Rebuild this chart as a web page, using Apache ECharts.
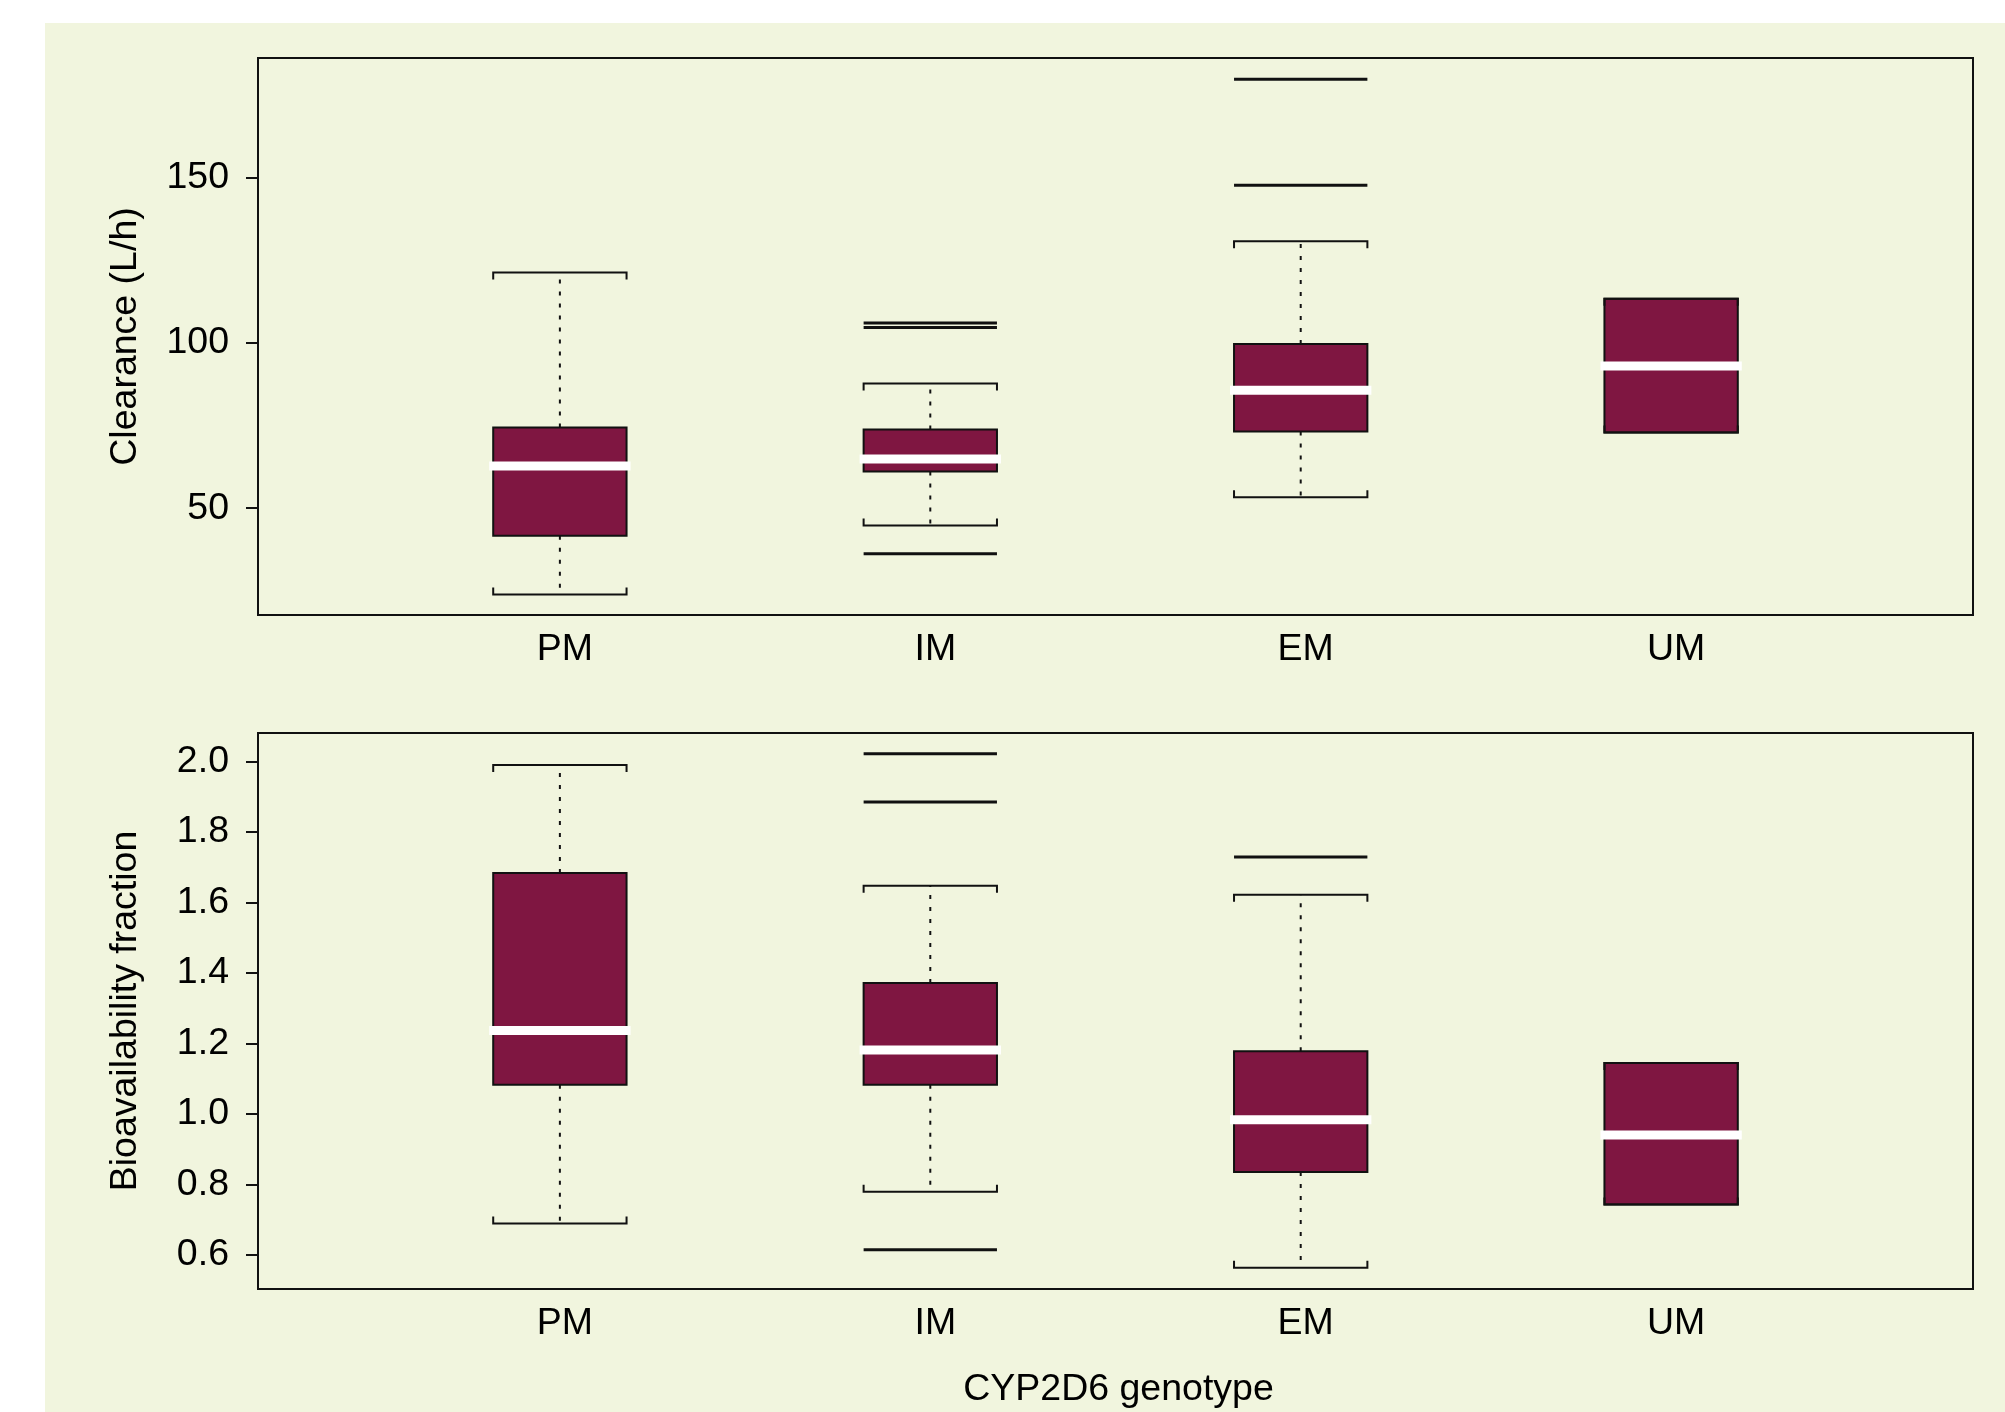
<!DOCTYPE html>
<html>
<head>
<meta charset="utf-8">
<title>CYP2D6 genotype: clearance and bioavailability</title>
<script src="https://cdn.jsdelivr.net/npm/echarts@6/dist/echarts.min.js"></script>
<style>
  html, body { margin: 0; padding: 0; background: #ffffff; }
  #panel { position: absolute; left: 45px; top: 23px; right: 0; bottom: 0; background: #f1f5de; }
  #chart { position: absolute; left: 0; top: 0; width: 2005px; height: 1412px; }
</style>
</head>
<body>
<div id="panel"></div>
<div id="chart"></div>
<script>
// Genotype groups along the x axis
const genotypes = ['PM', 'IM', 'EM', 'UM'];

// Clearance (L/h): five-number summaries [lower whisker, Q1, median, Q3, upper whisker]
const clearancePM = [23.9, 41.7, 62.8, 74.4, 121.3];
const clearanceIM = [44.8, 61.1, 64.9, 73.8, 87.7];
const clearanceEM = [53.3, 73.2, 85.7, 99.7, 130.8];
const clearanceUM = [72.9, 72.9, 93.0, 113.4, 113.4];
// Clearance outliers as [group index, value]
const clearanceOutliers = [[1, 106.0], [1, 104.7], [1, 36.2], [2, 179.8], [2, 147.7]];
const clearanceTicks = [50, 100, 150];

// Bioavailability fraction: five-number summaries
const bioPM = [0.690, 1.083, 1.237, 1.684, 1.990];
const bioIM = [0.780, 1.083, 1.182, 1.372, 1.648];
const bioEM = [0.564, 0.836, 0.984, 1.178, 1.622];
const bioUM = [0.744, 0.744, 0.941, 1.145, 1.145];
// Bioavailability outliers as [group index, value]
const bioOutliers = [[1, 2.022], [1, 1.885], [1, 0.615], [2, 1.729]];
const bioTicks = [0.6, 0.8, 1.0, 1.2, 1.4, 1.6, 1.8, 2.0];

const BOX_FILL = '#7f1641';
const INK = '#111111';
const BOX_WIDTH = 0.36;            // box width in x-axis units
const FONT = '"Liberation Sans", Arial, Helvetica, sans-serif';
const FONT_SIZE = 37.5;

const rows = (stats) => stats.map((s, i) => [i].concat(s));

function renderBox(params, api) {
  const x = api.value(0);
  const halfW = api.size([1, 0])[0] * BOX_WIDTH / 2;
  const cx = api.coord([x, api.value(3)])[0];
  const yLow = api.coord([x, api.value(1)])[1];
  const yQ1 = api.coord([x, api.value(2)])[1];
  const yMed = api.coord([x, api.value(3)])[1];
  const yQ3 = api.coord([x, api.value(4)])[1];
  const yHigh = api.coord([x, api.value(5)])[1];
  const dotted = { stroke: INK, lineWidth: 2, lineDash: [4, 8], fill: null };
  const solid = { stroke: INK, lineWidth: 2, fill: null };
  const children = [];
  if (yHigh < yQ3 - 1) {
    children.push({ type: 'line', shape: { x1: cx, y1: yQ3, x2: cx, y2: yHigh }, style: dotted });
  }
  if (yLow > yQ1 + 1) {
    children.push({ type: 'line', shape: { x1: cx, y1: yQ1, x2: cx, y2: yLow }, style: dotted });
  }
  children.push({
    type: 'rect',
    shape: { x: cx - halfW, y: yQ3, width: 2 * halfW, height: yQ1 - yQ3 },
    style: { fill: BOX_FILL, stroke: INK, lineWidth: 2 }
  });
  children.push({
    type: 'line',
    shape: { x1: cx - halfW - 4, y1: yMed, x2: cx + halfW + 4, y2: yMed },
    style: { stroke: '#ffffff', lineWidth: 9 }
  });
  // whisker staples with short end ticks pointing back toward the box
  children.push({
    type: 'polyline',
    shape: { points: [[cx - halfW, yHigh + 7], [cx - halfW, yHigh], [cx + halfW, yHigh], [cx + halfW, yHigh + 7]] },
    style: solid
  });
  children.push({
    type: 'polyline',
    shape: { points: [[cx - halfW, yLow - 7], [cx - halfW, yLow], [cx + halfW, yLow], [cx + halfW, yLow - 7]] },
    style: solid
  });
  return { type: 'group', children: children };
}

function renderOutlier(params, api) {
  const halfW = api.size([1, 0])[0] * BOX_WIDTH / 2;
  const p = api.coord([api.value(0), api.value(1)]);
  return {
    type: 'line',
    shape: { x1: p[0] - halfW, y1: p[1], x2: p[0] + halfW, y2: p[1] },
    style: { stroke: INK, lineWidth: 3 }
  };
}

const xAxisBase = (gridIndex, withName) => ({
  type: 'value',
  gridIndex: gridIndex,
  min: -0.815,
  max: 3.815,
  axisLine: { show: false, onZero: false },
  axisTick: { show: false },
  splitLine: { show: false },
  axisLabel: {
    customValues: [0, 1, 2, 3],
    formatter: (v) => genotypes[Math.round(v)],
    color: '#000', fontSize: FONT_SIZE, fontFamily: FONT, margin: 16,
    padding: [0, 0, 0, 10]
  },
  name: withName ? 'CYP2D6 genotype' : '',
  nameLocation: 'middle',
  nameGap: 82,
  nameTextStyle: { color: '#000', fontSize: FONT_SIZE, fontFamily: FONT, padding: [0, 0, 0, 6] }
});

const yAxisBase = (gridIndex, name, min, max, ticks, fmt) => ({
  type: 'value',
  gridIndex: gridIndex,
  min: min,
  max: max,
  axisLine: { show: false, onZero: false },
  splitLine: { show: false },
  axisTick: { show: true, inside: false, length: 12, customValues: ticks, lineStyle: { color: INK, width: 2 } },
  axisLabel: {
    customValues: ticks, formatter: fmt,
    color: '#000', fontSize: FONT_SIZE, fontFamily: FONT, margin: 29
  },
  name: name,
  nameLocation: 'middle',
  nameGap: 113,
  nameTextStyle: { color: '#000', fontSize: FONT_SIZE, fontFamily: FONT }
});

const chart = echarts.init(document.getElementById('chart'), null, { renderer: 'canvas' });
chart.setOption({
  backgroundColor: 'transparent',
  animation: false,
  grid: [
    { left: 258, top: 58, width: 1715, height: 557, show: true, borderColor: INK, borderWidth: 2, backgroundColor: 'transparent' },
    { left: 258, top: 733, width: 1715, height: 556, show: true, borderColor: INK, borderWidth: 2, backgroundColor: 'transparent' }
  ],
  xAxis: [xAxisBase(0, false), xAxisBase(1, true)],
  yAxis: [
    yAxisBase(0, 'Clearance (L/h)', 17.7, 186.2, clearanceTicks, (v) => String(Math.round(v))),
    yAxisBase(1, 'Bioavailability fraction', 0.504, 2.081, bioTicks, (v) => v.toFixed(1))
  ],
  series: [
    {
      type: 'custom', xAxisIndex: 0, yAxisIndex: 0,
      data: rows([clearancePM, clearanceIM, clearanceEM, clearanceUM]),
      encode: { x: 0, y: [1, 2, 3, 4, 5] },
      renderItem: renderBox
    },
    {
      type: 'custom', xAxisIndex: 0, yAxisIndex: 0,
      data: clearanceOutliers,
      encode: { x: 0, y: 1 },
      renderItem: renderOutlier
    },
    {
      type: 'custom', xAxisIndex: 1, yAxisIndex: 1,
      data: rows([bioPM, bioIM, bioEM, bioUM]),
      encode: { x: 0, y: [1, 2, 3, 4, 5] },
      renderItem: renderBox
    },
    {
      type: 'custom', xAxisIndex: 1, yAxisIndex: 1,
      data: bioOutliers,
      encode: { x: 0, y: 1 },
      renderItem: renderOutlier
    }
  ]
});
</script>
</body>
</html>
